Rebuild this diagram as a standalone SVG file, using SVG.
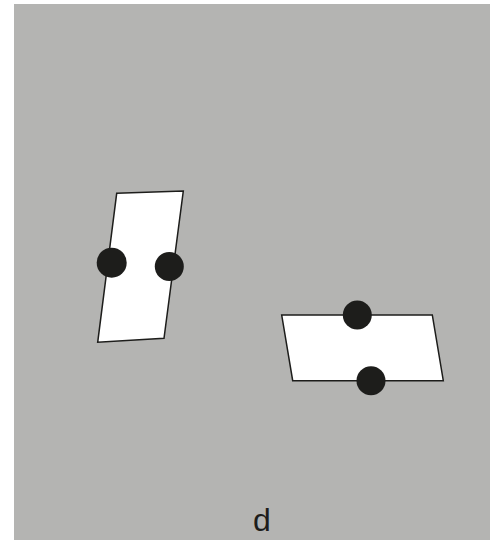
<svg xmlns="http://www.w3.org/2000/svg" width="495" height="545" viewBox="0 0 495 545">
<style>
.shape{fill:#ffffff;stroke:#1d1d1b;stroke-width:1.5}
.dot{fill:#1d1d1b}
.lbl{font-family:"Liberation Sans",Arial,sans-serif;font-size:32px;fill:#1d1d1b}
</style>
<rect x="14" y="4" width="476" height="536" fill="#b4b4b2"/>
<g id="left-piece">
<polygon class="shape" points="116.7,193.3 183.3,191 164,338.3 97.7,342.3"/>
<circle class="dot" cx="111.7" cy="262.7" r="15"/>
<circle class="dot" cx="169.3" cy="266.5" r="14.5"/>
</g>
<g id="right-piece">
<polygon class="shape" points="281.7,315 432.3,315 443.3,380.7 292.7,380.7"/>
<circle class="dot" cx="357.3" cy="315" r="14.5"/>
<circle class="dot" cx="371" cy="380.7" r="14.5"/>
</g>
<g id="connectors"></g>
<text class="lbl" x="262" y="531" text-anchor="middle">d</text>
</svg>
